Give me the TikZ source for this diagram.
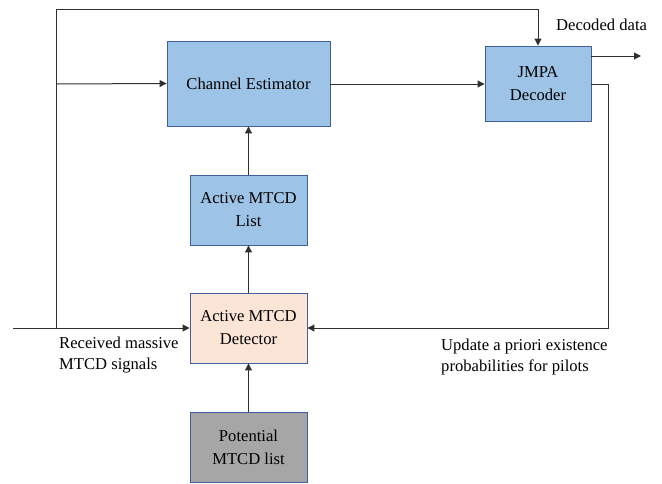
\documentclass[tikz,border=0pt]{standalone}
\usepackage{fontspec}
\setmainfont{Liberation Serif}
\usetikzlibrary{arrows.meta}
\definecolor{boxblue}{HTML}{9DC3E6}
\definecolor{boxedge}{HTML}{41609A}
\definecolor{boxpeach}{HTML}{FBE5D6}
\definecolor{boxgray}{HTML}{A6A6A6}
\definecolor{linec}{HTML}{303030}
\begin{document}
\begin{tikzpicture}[x=1pt,y=-1pt,
  blk/.style={draw=boxedge, line width=0.9pt, align=center, inner sep=0pt,
    font=\fontsize{16.6}{23}\selectfont},
  conn/.style={draw=linec, line width=1pt, -{Triangle[length=7pt,width=7pt]}},
  wire/.style={draw=linec, line width=1pt},
  lbl/.style={align=left, inner sep=0pt, font=\fontsize{16.6}{21}\selectfont}]
\useasboundingbox (0,0) rectangle (662,483);
\node[blk, fill=boxblue, minimum width=163pt, minimum height=85pt] (ce) at (248.5,83.5) {Channel Estimator};
\node[blk, fill=boxblue, minimum width=106pt, minimum height=75pt] (jm) at (538,83.5) {JMPA\\Decoder};
\node[blk, fill=boxblue, minimum width=117pt, minimum height=70pt] (al) at (248.5,210) {Active MTCD\\List};
\node[blk, fill=boxpeach, minimum width=117pt, minimum height=70pt] (ad) at (248.5,328) {Active MTCD\\Detector};
\node[blk, fill=boxgray, minimum width=117pt, minimum height=70pt] (pl) at (248.5,447) {Potential\\MTCD list};
\coordinate (in) at (13,328);
\coordinate (tl) at (56,9);
\coordinate (tr) at (538,9);
\coordinate (jl) at (56,328);
\coordinate (br) at (56,84);
\coordinate (o1) at (591,56);
\coordinate (o2) at (641,56);
\coordinate (f1) at (591,84);
\coordinate (f2) at (608,84);
\coordinate (f3) at (608,328);
\node[lbl, anchor=north west] (rx) at (59,337) {Received massive\\MTCD signals};
\node[lbl, anchor=north west] (up) at (441,339) {Update a priori existence\\probabilities for pilots};
\node[lbl, anchor=west] (dd) at (556,25) {Decoded data};
\draw[conn] (in) -- (ad.west);
\draw[wire] (jl) -- (tl) -- (tr);
\draw[conn] (tr) -- (jm.north);
\draw[conn] (br) -- (ce.west);
\draw[conn] (ce.east |- br) -- (jm.west |- br);
\draw[conn] (o1) -- (o2);
\draw[conn] (f1) -- (f2) -- (f3) -- (ad.east);
\draw[conn] (pl) -- (ad);
\draw[conn] (ad) -- (al);
\draw[conn] (al) -- (ce);
\end{tikzpicture}
\end{document}
